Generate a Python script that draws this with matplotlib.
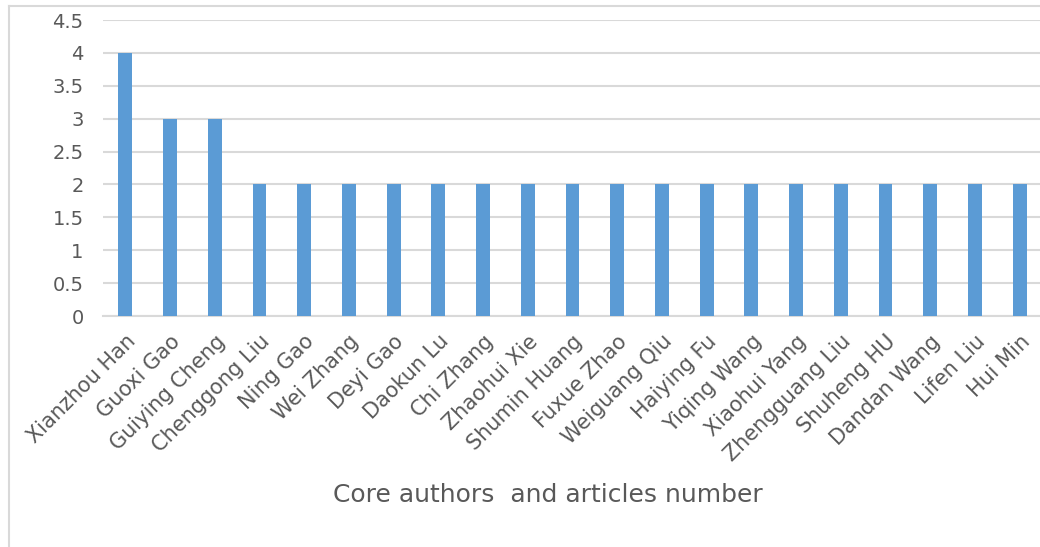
import matplotlib.pyplot as plt
from matplotlib.lines import Line2D

# Authors and number of articles
authors = ["Xianzhou Han", "Guoxi Gao", "Guiying Cheng", "Chenggong Liu", "Ning Gao",
           "Wei Zhang", "Deyi Gao", "Daokun Lu", "Chi Zhang", "Zhaohui Xie",
           "Shumin Huang", "Fuxue Zhao", "Weiguang Qiu", "Haiying Fu", "Yiqing Wang",
           "Xiaohui Yang", "Zhengguang Liu", "Shuheng HU", "Dandan Wang", "Lifen Liu",
           "Hui Min"]
articles = [4, 3, 3, 2, 2, 2, 2, 2, 2, 2, 2, 2, 2, 2, 2, 2, 2, 2, 2, 2, 2]
yticks = [0, 0.5, 1, 1.5, 2, 2.5, 3, 3.5, 4, 4.5]
ytick_labels = ["0", "0.5", "1", "1.5", "2", "2.5", "3", "3.5", "4", "4.5"]

plt.rcParams['font.family'] = ['DejaVu Sans']
text_color = '#595959'
grid_color = '#d9d9d9'

fig = plt.figure(figsize=(10.4, 5.47), dpi=100)
ax = fig.add_axes([103 / 1040, 1 - 316 / 547, 939 / 1040, 296 / 547])

x = list(range(len(authors)))
ax.bar(x, articles, width=0.31, color='#5b9bd5', zorder=3)

ax.set_xlim(-0.5, len(authors) - 0.5)
ax.set_ylim(0, 4.5)
ax.set_yticks(yticks)
ax.set_yticklabels(ytick_labels, fontsize=14, color=text_color)
ax.set_xticks(x)
ax.set_xticklabels(authors, rotation=45, ha='right', rotation_mode='anchor',
                   fontsize=15, color=text_color)
ax.tick_params(axis='both', length=0)
ax.tick_params(axis='y', pad=14)
ax.tick_params(axis='x', pad=11)

ax.grid(axis='y', color=grid_color, linewidth=1.5, zorder=0)
for side in ['top', 'right', 'left']:
    ax.spines[side].set_visible(False)
ax.spines['bottom'].set_color(grid_color)
ax.spines['bottom'].set_linewidth(1.5)

fig.text(548 / 1040, 1 - 495 / 547, "Core authors  and articles number",
         ha='center', va='center', fontsize=18, color=text_color)

# chart border (left and top only, rest is cropped)
fig.add_artist(Line2D([9 / 1040, 9 / 1040], [0, 1 - 6 / 547], color=grid_color,
                      linewidth=1.5, transform=fig.transFigure))
fig.add_artist(Line2D([9 / 1040, 1], [1 - 6 / 547, 1 - 6 / 547], color=grid_color,
                      linewidth=1.5, transform=fig.transFigure))

fig.savefig('out.png', dpi=100)
